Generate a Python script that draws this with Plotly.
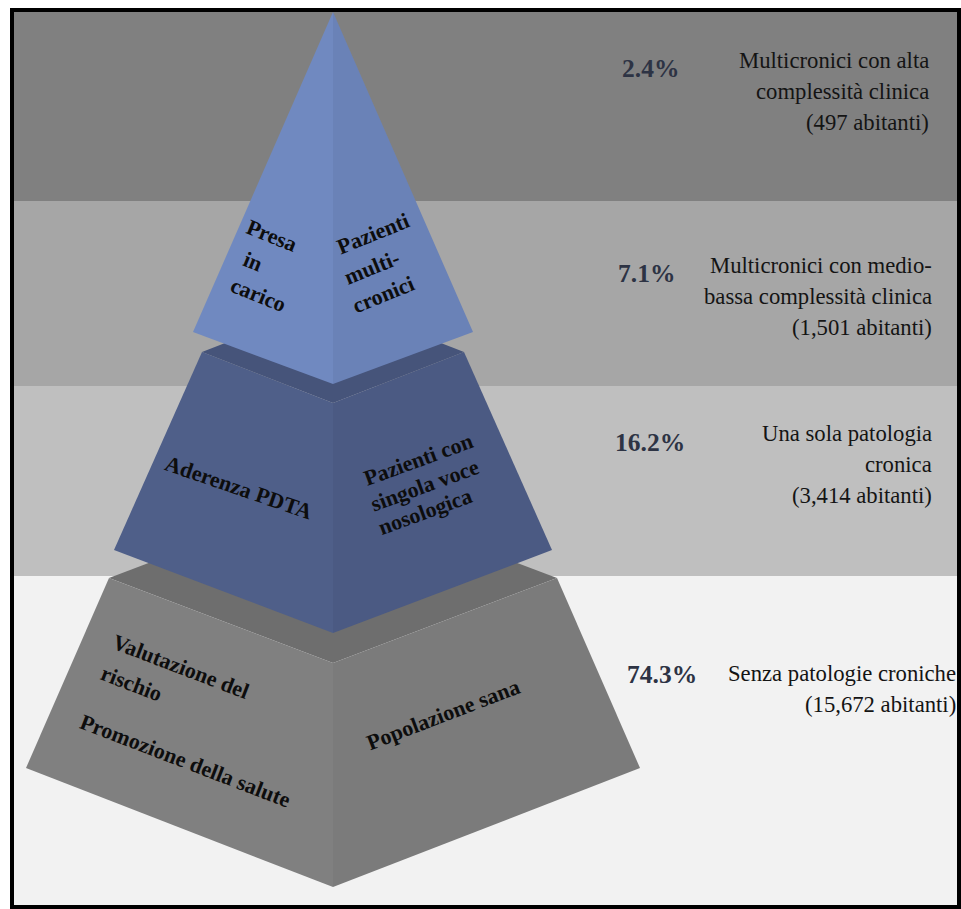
import plotly.graph_objects as go

# ---------------- data ----------------
groups = ["Multicronici alta complessità", "Multicronici medio-bassa complessità",
          "Una sola patologia cronica", "Senza patologie croniche"]
pct = [2.4, 7.1, 16.2, 74.3]
abitanti = [497, 1501, 3414, 15672]
desc_lines = [["Multicronici con alta", "complessità clinica"],
              ["Multicronici con medio-", "bassa complessità clinica"],
              ["Una sola patologia", "cronica"],
              ["Senza patologie croniche"]]
left_labels = [["Presa", "in", "carico"],
               ["Aderenza PDTA"],
               ["Valutazione del", "rischio", "Promozione della salute"]]
right_labels = [["Pazienti", "multi-", "cronici"],
                ["Pazienti con", "singola voce", "nosologica"],
                ["Popolazione sana"]]

# ---------------- layout / style ----------------
W, H = 961, 909
FONT = "serif"
band_y = [(12, 201), (201, 386), (386, 576), (576, 905)]
band_colors = ["#808080", "#a6a6a6", "#bfbfbf", "#f2f2f2"]
pct_pos = [(620, 68), (616, 273), (613, 442), (625, 674)]
desc_right = [931, 934, 934, 958]
desc_y0 = [60, 265, 433, 673]
desc_step = 31

CX = 333
# tiers top->bottom: (top hw, top corner y, top depth, bottom hw, bottom corner y, bottom depth)
tiers = [
    dict(ht=0, yt=12, dt=0, hb=140, yb=332, db=52,
         left="#7089c0", right="#6a82b7", top="#6a82b7"),
    dict(ht=131, yt=352, dt=51, hb=219, yb=550, db=83,
         left="#4f5f89", right="#4b5a83", top="#46547a"),
    dict(ht=224, yt=578, dt=85, hb=307, yb=768, db=119,
         left="#808080", right="#7b7b7b", top="#6e6e6e"),
]

# label line placements (center x, center y, angle) per tier
left_pos = [[(272, 235, 22), (253, 261, 22), (258, 294, 22)],
            [(239, 487, 19)],
            [(181, 666, 21), (132, 683, 21), (185, 760, 21)]]
right_pos = [[(373, 233, -22), (371, 267, -22), (383, 294, -22)],
             [(418, 459, -20), (424, 485, -20), (425, 511, -20)],
             [(443, 714, -21)]]

fig = go.Figure()

def poly(pts, color):
    xs = [p[0] for p in pts] + [pts[0][0]]
    ys = [p[1] for p in pts] + [pts[0][1]]
    fig.add_trace(go.Scatter(x=xs, y=ys, mode="lines", fill="toself",
                             fillcolor=color, line=dict(width=0, color=color),
                             hoverinfo="skip", showlegend=False))

# background bands
for (y0, y1), c in zip(band_y, band_colors):
    fig.add_shape(type="rect", x0=14, x1=957, y0=y0, y1=y1, xref="x", yref="y",
                  fillcolor=c, line=dict(width=0), layer="below")

# pyramid: draw bottom tier first
for t in reversed(tiers):
    ht, yt, dt, hb, yb, db = t["ht"], t["yt"], t["dt"], t["hb"], t["yb"], t["db"]
    if ht > 0:
        poly([(CX - ht, yt), (CX, yt - dt), (CX + ht, yt), (CX, yt + dt)], t["top"])
    poly([(CX - ht, yt), (CX, yt + dt), (CX, yb + db), (CX - hb, yb)], t["left"])
    poly([(CX, yt + dt), (CX + ht, yt), (CX + hb, yb), (CX, yb + db)], t["right"])

ann = []
for labels, poss in ((left_labels, left_pos), (right_labels, right_pos)):
    for lines, pl in zip(labels, poss):
        for txt, (x, y, a) in zip(lines, pl):
            ann.append(dict(x=x, y=y, xref="x", yref="y", text=f"<b>{txt}</b>",
                            showarrow=False, textangle=a, xanchor="center",
                            yanchor="middle",
                            font=dict(family=FONT, size=22, color="#0d0d0d")))

for i in range(len(pct)):
    px, py = pct_pos[i]
    ann.append(dict(x=px, y=py, xref="x", yref="y", text=f"<b>{pct[i]:.1f}%</b>",
                    showarrow=False, xanchor="left", yanchor="middle",
                    font=dict(family=FONT, size=25.5, color="#2d3344")))
    lines = desc_lines[i] + [f"({abitanti[i]:,} abitanti)"]
    for j, ln in enumerate(lines):
        ann.append(dict(x=desc_right[i], y=desc_y0[i] + j * desc_step, xref="x", yref="y",
                        text=ln, showarrow=False, xanchor="right", yanchor="middle",
                        font=dict(family=FONT, size=22.7, color="#141414")))

# frame
fig.add_shape(type="rect", x0=12, x1=959, y0=10, y1=907, xref="x", yref="y",
              line=dict(color="black", width=4), fillcolor="rgba(0,0,0,0)", layer="above")

fig.update_layout(
    width=W, height=H, margin=dict(l=0, r=0, t=0, b=0),
    paper_bgcolor="white", plot_bgcolor="white",
    font=dict(family=FONT),
    xaxis=dict(range=[0, W], visible=False, fixedrange=True),
    yaxis=dict(range=[H, 0], visible=False, fixedrange=True),
    annotations=ann, showlegend=False,
)
fig.write_html("out.html", config={"displayModeBar": False},
               post_script="document.body.style.margin='0';document.body.style.overflow='hidden';")
